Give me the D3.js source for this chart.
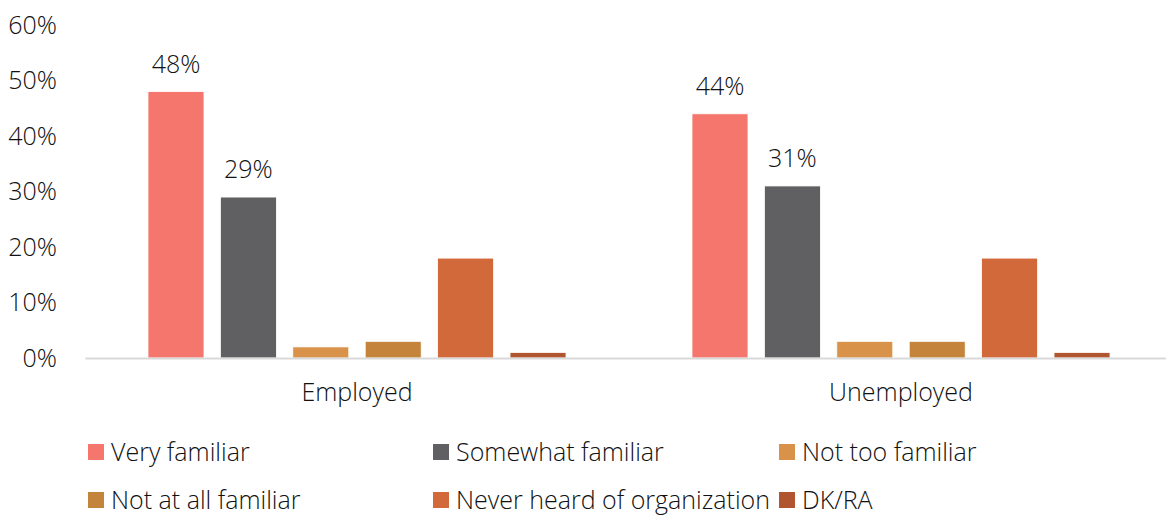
<!DOCTYPE html>
<html>
<head>
<meta charset="utf-8">
<script src="https://cdn.jsdelivr.net/npm/d3@7"></script>
<style>
  body { margin: 0; background: #fff; }
  svg { font-family: "Open Sans", "Noto Sans", sans-serif; font-weight: 300; }
</style>
</head>
<body>
<svg id="chart" width="1166" height="516"></svg>
<script>
const groups = ["Employed", "Unemployed"];
const series = ["Very familiar", "Somewhat familiar", "Not too familiar", "Not at all familiar", "Never heard of organization", "DK/RA"];
const employed = [48, 29, 2, 3, 18, 1];
const unemployed = [44, 31, 3, 3, 18, 1];
const yTicks = [0, 10, 20, 30, 40, 50, 60];
const labelled = ["Very familiar", "Somewhat familiar"];

const colors = ["#F4766C", "#606062", "#D8924A", "#C4843C", "#D2693A", "#B05530"];

const width = 1166, height = 516;
const margin = { top: 25, left: 85, right: -7, axisY: 358 };
const fontSize = "25px";
const textColor = "#111";

const svg = d3.select("#chart");

const values = { Employed: employed, Unemployed: unemployed };

const y = d3.scaleLinear()
    .domain([0, 60])
    .range([margin.axisY, margin.top]);

const x0 = d3.scaleBand()
    .domain(groups)
    .range([margin.left, width - margin.right])
    .paddingInner(0)
    .paddingOuter(0);

const x1 = d3.scaleBand()
    .domain(series)
    .range([0, x0.bandwidth()])
    .paddingInner(0.2265)
    .paddingOuter(0.87);

const color = d3.scaleOrdinal().domain(series).range(colors);

// y axis labels (no line)
const yAxis = d3.axisLeft(y)
    .tickValues(yTicks)
    .tickFormat(d => d + "%")
    .tickSize(0)
    .tickPadding(0);

const yg = svg.append("g")
    .attr("transform", `translate(57,0)`)
    .call(yAxis)
    .attr("font-family", null)
    .attr("font-size", null);
yg.select(".domain").remove();
yg.selectAll("text")
    .style("font-size", fontSize)
    .attr("fill", textColor);

// bars
const g = svg.append("g");
groups.forEach(grp => {
    const gg = g.append("g").attr("transform", `translate(${x0(grp)},0)`);
    const data = series.map((s, i) => ({ s, v: values[grp][i] }));
    gg.selectAll("rect")
        .data(data)
        .enter()
        .append("rect")
        .attr("x", d => x1(d.s))
        .attr("y", d => y(d.v))
        .attr("width", x1.bandwidth())
        .attr("height", d => y(0) - y(d.v))
        .attr("fill", d => color(d.s))
        .attr("stroke", "#fff")
        .attr("stroke-width", 0.8);
    gg.selectAll("text.val")
        .data(data.filter(d => labelled.includes(d.s)))
        .enter()
        .append("text")
        .attr("class", "val")
        .attr("x", d => x1(d.s) + x1.bandwidth() / 2)
        .attr("y", d => y(d.v) - 19)
        .attr("text-anchor", "middle")
        .style("font-size", fontSize)
        .attr("fill", textColor)
        .text(d => d.v + "%");
});

// x axis
const xAxis = d3.axisBottom(x0).tickSize(0).tickPadding(25);
const xg = svg.append("g")
    .attr("transform", `translate(0,${margin.axisY})`)
    .call(xAxis)
    .attr("font-family", null)
    .attr("font-size", null);
xg.select(".domain")
    .attr("stroke", "#D9D9D9")
    .attr("stroke-width", 2);
xg.selectAll("text")
    .style("font-size", fontSize)
    .attr("fill", textColor);

// legend
const legendX = [88, 433, 779];
const legendY = [452, 500];
const legend = svg.append("g")
    .selectAll("g")
    .data(series)
    .enter()
    .append("g")
    .attr("transform", (d, i) => `translate(${legendX[i % 3]},${legendY[Math.floor(i / 3)]})`);
legend.append("rect")
    .attr("x", 0)
    .attr("y", -8)
    .attr("width", 16)
    .attr("height", 16)
    .attr("fill", d => color(d));
legend.append("text")
    .attr("x", 23)
    .attr("y", 0)
    .attr("dy", "0.35em")
    .style("font-size", fontSize)
    .attr("fill", textColor)
    .text(d => d);
</script>
</body>
</html>
